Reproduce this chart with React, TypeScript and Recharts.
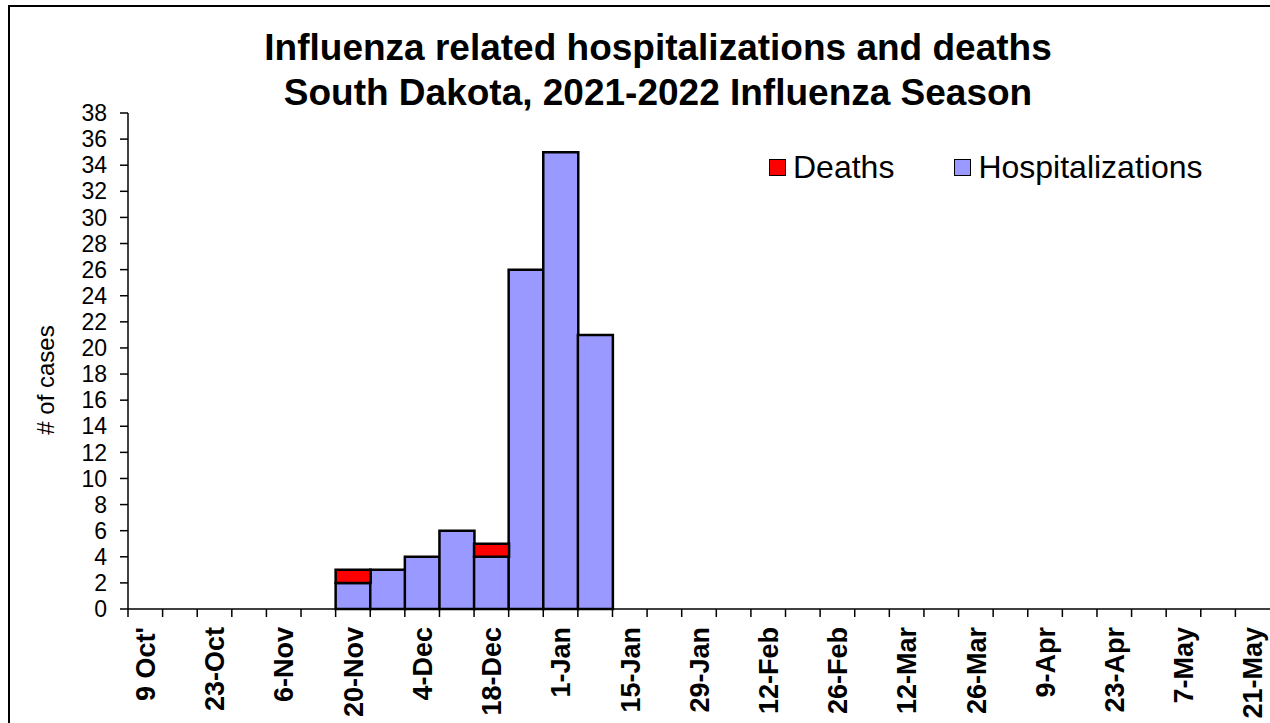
import { Bar, BarChart, XAxis, YAxis } from 'recharts';

const weeks = [
  "9 Oct'", '16-Oct', '23-Oct', '30-Oct', '6-Nov', '13-Nov', '20-Nov', '27-Nov', '4-Dec', '11-Dec', '18-Dec',
  '25-Dec', '1-Jan', '8-Jan', '15-Jan', '22-Jan', '29-Jan', '5-Feb', '12-Feb', '19-Feb', '26-Feb', '5-Mar',
  '12-Mar', '19-Mar', '26-Mar', '2-Apr', '9-Apr', '16-Apr', '23-Apr', '30-Apr', '7-May', '14-May', '21-May',
];
const hospitalizations = [0, 0, 0, 0, 0, 0, 2, 3, 4, 6, 4, 26, 35, 21, 0, 0, 0, 0, 0, 0, 0, 0, 0, 0, 0, 0, 0, 0, 0, 0, 0, 0, 0];
const deaths = [0, 0, 0, 0, 0, 0, 1, 0, 0, 0, 1, 0, 0, 0, 0, 0, 0, 0, 0, 0, 0, 0, 0, 0, 0, 0, 0, 0, 0, 0, 0, 0, 0];
const yTicks = [0, 2, 4, 6, 8, 10, 12, 14, 16, 18, 20, 22, 24, 26, 28, 30, 32, 34, 36, 38];

const series = [
  { key: 'Deaths', color: '#ff0000' },
  { key: 'Hospitalizations', color: '#9999ff' },
];

const FONT = "Arial, 'Liberation Sans', sans-serif";

const data = weeks.map((week, i) => ({ week, Hospitalizations: hospitalizations[i], Deaths: deaths[i] }));

function WeekTick(props: any) {
  const { x, y, payload, index } = props;
  const half = payload?.offset ?? 17.3;
  return (
    <g>
      <line x1={x - half} x2={x - half} y1={y} y2={y + 8} stroke="#000" strokeWidth={1.5} />
      {index % 2 === 0 && (
        <text
          x={x}
          y={y + 18}
          transform={`rotate(-90 ${x} ${y + 18})`}
          textAnchor="end"
          dy="0.36em"
          fontFamily={FONT}
          fontWeight="bold"
          fontSize={27}
          fill="#000"
        >
          {payload.value}
        </text>
      )}
    </g>
  );
}

function LegendBox() {
  return (
    <div style={{ position: 'absolute', left: 759, top: 142, display: 'flex', alignItems: 'center', fontFamily: FONT, fontSize: 32, color: '#000', lineHeight: '36px' }}>
      {series.map((s, i) => (
        <div key={s.key} style={{ display: 'flex', alignItems: 'center', marginRight: i === 0 ? 60 : 0 }}>
          <span style={{ width: 15, height: 15, background: s.color, border: '1.5px solid #000', marginRight: 7 }} />
          <span>{s.key}</span>
        </div>
      ))}
    </div>
  );
}

export default function App() {
  return (
    <div style={{ position: 'absolute', left: 8, top: 5, width: 1260, height: 716, borderTop: '2px solid #000', borderLeft: '2px solid #000', background: '#fff' }}>
      <style>{'body{overflow:hidden}'}</style>
      <div style={{ position: 'absolute', left: 0, width: 1296, top: 18, textAlign: 'center', fontFamily: FONT, fontWeight: 'bold', fontSize: 37, lineHeight: '45px', color: '#000' }}>
        Influenza related hospitalizations and deaths
        <br />
        South Dakota, 2021-2022 Influenza Season
      </div>
      <div style={{ position: 'absolute', left: 36, top: 373, transform: 'translate(-50%, -50%) rotate(-90deg)', fontFamily: FONT, fontSize: 24, whiteSpace: 'nowrap', color: '#000' }}>
        # of cases
      </div>
      <LegendBox />
      <BarChart width={1260} height={716} data={data} barCategoryGap={0} margin={{ top: 106, right: 0, bottom: 14, left: 0 }}>
        <XAxis
          dataKey="week"
          interval={0}
          tickLine={false}
          tickSize={0}
          tickMargin={0}
          height={100}
          stroke="#000"
          strokeWidth={1.5}
          tick={<WeekTick />}
        />
        <YAxis
          type="number"
          domain={[0, 38]}
          ticks={yTicks}
          interval={0}
          width={118}
          tickSize={8}
          tickMargin={13}
          stroke="#000"
          strokeWidth={1.5}
          tick={{ fill: '#000', fontFamily: FONT, fontSize: 23 }}
        />
        <Bar dataKey="Hospitalizations" stackId="a" fill="#9999ff" stroke="#000" strokeWidth={2.5} isAnimationActive={false} />
        <Bar dataKey="Deaths" stackId="a" fill="#ff0000" stroke="#000" strokeWidth={2.5} isAnimationActive={false} />
      </BarChart>
    </div>
  );
}
